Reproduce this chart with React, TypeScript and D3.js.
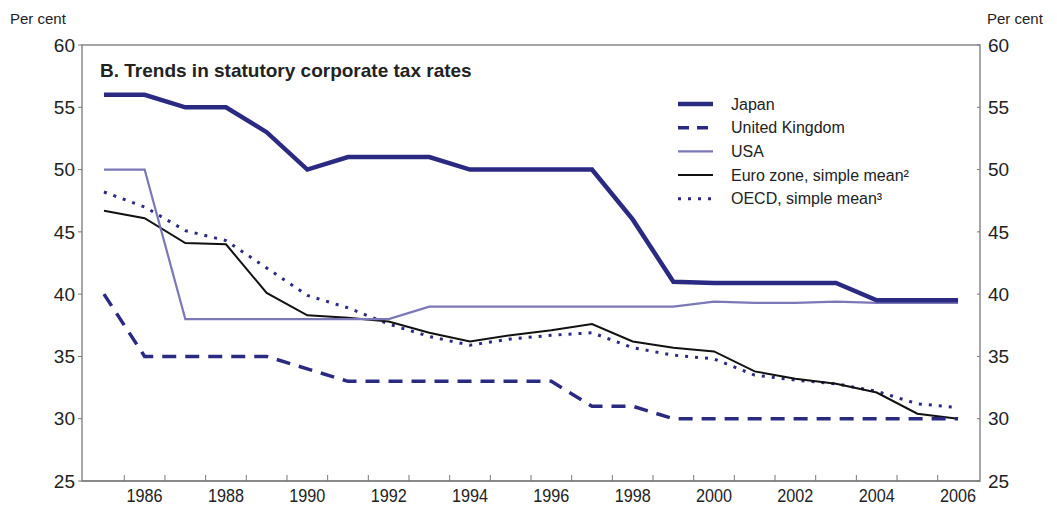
import React from 'react';
import * as d3 from 'd3';

// Years and series (per cent)
const years = d3.range(1985, 2007);
const japan = [56, 56, 55, 55, 53, 50, 51, 51, 51, 50, 50, 50, 50, 46, 41, 40.9, 40.9, 40.9, 40.9, 39.5, 39.5, 39.5];
const uk = [40, 35, 35, 35, 35, 34, 33, 33, 33, 33, 33, 33, 31, 31, 30, 30, 30, 30, 30, 30, 30, 30];
const usa = [50, 50, 38, 38, 38, 38, 38, 38, 39, 39, 39, 39, 39, 39, 39, 39.4, 39.3, 39.3, 39.4, 39.3, 39.3, 39.3];
const euroZone = [46.7, 46.1, 44.1, 44.0, 40.1, 38.3, 38.1, 37.8, 36.9, 36.2, 36.7, 37.1, 37.6, 36.2, 35.7, 35.4, 33.8, 33.2, 32.8, 32.1, 30.4, 30.0];
const oecd = [48.2, 47.0, 45.1, 44.3, 42.1, 39.9, 38.9, 37.6, 36.6, 35.9, 36.4, 36.7, 36.9, 35.7, 35.1, 34.8, 33.5, 33.1, 32.8, 32.2, 31.2, 30.9];
const yTicks = [25, 30, 35, 40, 45, 50, 55, 60];
const xLabels = d3.range(1986, 2007, 2);

const NAVY = '#2b2a83';
const LILAC = '#7b78b8';

const series = [
  { name: 'Japan', values: japan, color: NAVY, width: 4.5, dash: null, legendDash: null },
  { name: 'United Kingdom', values: uk, color: NAVY, width: 3.5, dash: '14 9', legendDash: '11 8' },
  { name: 'USA', values: usa, color: LILAC, width: 2.2, dash: null, legendDash: null },
  { name: 'Euro zone, simple mean²', values: euroZone, color: '#111', width: 2, dash: null, legendDash: null },
  { name: 'OECD, simple mean³', values: oecd, color: NAVY, width: 3, dash: '3 7', legendDash: '3 7' },
];

const W = 1057;
const H = 507;
const left = 82;
const right = 980;
const top = 45;
const bottom = 481;
const FONT = '"Liberation Sans", Arial, Helvetica, sans-serif';

const App = () => {
  const x = d3.scaleLinear()
    .domain([years[0] - 0.54, years[years.length - 1] + 0.54])
    .range([left, right]);
  const y = d3.scaleLinear().domain([25, 60]).range([bottom, top]);

  const line = d3.line<number>()
    .x((_, i) => x(years[i]))
    .y(d => y(d));

  const boundaryTicks = years.slice(0, -1).map(yr => yr + 0.5);

  return (
    <svg width={W} height={H} style={{ position: 'absolute', left: 0, top: 0, background: '#fff' }} fontFamily={FONT}>
      {/* Per cent labels */}
      <text x={10} y={24} fontSize={15} fill="#222">Per cent</text>
      <text x={987} y={24} fontSize={15} fill="#222">Per cent</text>

      {/* frame */}
      <rect x={left} y={top} width={right - left} height={bottom - top} fill="none" stroke="#8a8a8a" strokeWidth={1.5} />
      <line x1={left} x2={right} y1={bottom} y2={bottom} stroke="#8a8a8a" strokeWidth={2} />

      {/* y ticks and labels */}
      {yTicks.map(t => (
        <g key={t}>
          <line x1={left - 4} x2={left} y1={y(t)} y2={y(t)} stroke="#777" strokeWidth={1} />
          <line x1={right - 3} x2={right} y1={y(t)} y2={y(t)} stroke="#777" strokeWidth={1} />
          <text x={left - 7} y={y(t)} dy="0.35em" textAnchor="end" fontSize={19} fill="#222">{t}</text>
          <text x={right + 8} y={y(t)} dy="0.35em" fontSize={19} fill="#222">{t}</text>
        </g>
      ))}

      {/* x ticks */}
      {boundaryTicks.map(t => (
        <line key={t} x1={x(t)} x2={x(t)} y1={bottom} y2={bottom - 6} stroke="#777" strokeWidth={1} />
      ))}
      {xLabels.map(yr => (
        <text key={yr} x={x(yr)} y={bottom + 21} textAnchor="middle" fontSize={18} fill="#222"
          transform={`translate(${x(yr)},0) scale(0.9,1) translate(${-x(yr)},0)`}>{yr}</text>
      ))}

      {/* title */}
      <text x={100} y={77} fontSize={19} fontWeight="bold" fill="#222">B. Trends in statutory corporate tax rates</text>

      {/* series lines, drawn bottom-up so Japan is on top */}
      {[...series].reverse().map(s => (
        <path key={s.name} d={line(s.values) ?? ''} fill="none" stroke={s.color}
          strokeWidth={s.width} strokeDasharray={s.dash ?? undefined} strokeLinejoin="miter" />
      ))}

      {/* legend */}
      {series.map((s, i) => {
        const ly = 104 + i * 23.7;
        return (
          <g key={s.name}>
            <line x1={678} x2={713} y1={ly} y2={ly} stroke={s.color} strokeWidth={s.width}
              strokeDasharray={s.legendDash ?? undefined} />
            <text x={731} y={ly} dy="0.35em" fontSize={16} fill="#222">{s.name}</text>
          </g>
        );
      })}
    </svg>
  );
};

export default App;
